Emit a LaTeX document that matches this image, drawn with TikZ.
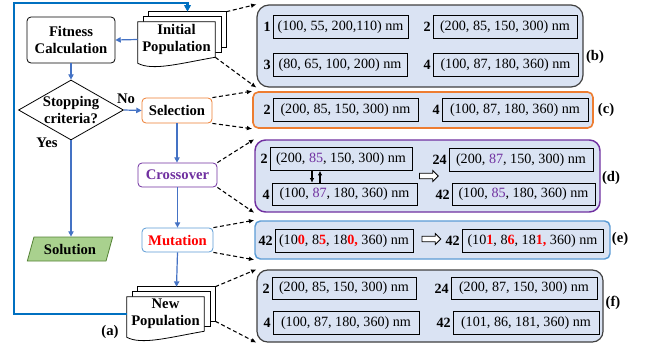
\documentclass[tikz,border=0pt]{standalone}
\usepackage{fontspec}
\setmainfont{Liberation Serif}
\usetikzlibrary{positioning,calc,shapes.geometric,shapes.arrows,arrows.meta}
\definecolor{pfill}{RGB}{218,227,243}
\definecolor{fblue}{RGB}{68,114,196}
\definecolor{lblue}{RGB}{0,112,192}
\definecolor{mblue}{RGB}{91,155,213}
\definecolor{org}{RGB}{237,125,49}
\definecolor{pur}{RGB}{112,48,160}
\definecolor{gfill}{RGB}{169,209,142}
\definecolor{gline}{RGB}{84,130,53}
\definecolor{dgray}{RGB}{64,64,64}
\newcommand{\mred}[1]{\textcolor{red}{\textbf{#1}}}
\newcommand{\mpur}[1]{\textcolor{pur}{#1}}
\tikzset{
  fl/.style={rectangle, rounded corners=3pt, draw=black, fill=white, line width=0.6pt, align=center, inner sep=1pt, font=\fontsize{11}{13}\selectfont\bfseries},
  dec/.style={diamond, shape aspect=1.75, draw=black, fill=white, line width=0.6pt, align=center, inner sep=-4pt, minimum width=78.75pt, minimum height=45pt, font=\fontsize{11}{13}\selectfont\bfseries},
  io/.style={trapezium, trapezium left angle=63, trapezium right angle=117, trapezium stretches body, draw=gline, fill=gfill, line width=0.6pt, inner sep=1pt, font=\fontsize{11}{13}\selectfont\bfseries},
  dt/.style={align=center, inner sep=0pt, font=\fontsize{11}{13}\selectfont\bfseries},
  pg/.style={draw=black, fill=white, line width=0.6pt},
  pn/.style={rectangle, rounded corners=8pt, draw=dgray, fill=pfill, line width=0.9pt},
  gb/.style={rectangle, draw=black, fill=pfill, line width=0.6pt, minimum height=17pt, inner sep=0pt, font=\fontsize{10.6}{12.5}\selectfont},
  nl/.style={inner sep=1.2pt, font=\fontsize{10.6}{12.5}\selectfont\bfseries},
  pl/.style={inner sep=0pt, font=\fontsize{11}{13}\selectfont\bfseries},
  fa/.style={draw=fblue, line width=0.9pt, -{Triangle[length=4pt,width=4pt]}},
  lp/.style={draw=lblue, line width=2pt, -{Triangle[length=5pt,width=5pt]}},
  da/.style={draw=black, line width=0.8pt, dash pattern=on 3pt off 2pt, -{Latex[length=4pt,width=3.5pt]}},
  sw/.style={draw=black, line width=0.9pt, -{Latex[length=3.5pt,width=3.5pt]}},
  ha/.style={single arrow, draw=black, fill=white, line width=0.6pt, minimum height=14pt, minimum width=8pt, single arrow head extend=2pt, inner sep=1.8pt}
}
\newcommand{\docstack}[1]{%
  \draw[pg] ($(#1.north west)+(11,-10)$) rectangle ($(#1.south east)+(11,-10)$);
  \draw[pg] ($(#1.north west)+(6,-5)$) rectangle ($(#1.south east)+(6,-5)$);
  \draw[pg] (#1.south east) -- (#1.north east) -- (#1.north west) -- ($(#1.south west)+(0,6)$)
    .. controls +(15,8) and +(-35,6) .. (#1.south east);
}

\begin{document}
\begin{tikzpicture}[x=0.75pt, y=-0.75pt]
	\useasboundingbox (0,0) rectangle (650,347);
	% flow chart
	\node[fl, minimum width=66pt, minimum height=34.5pt] (fit) at (71,40) {Fitness\\Calculation};
	\node[dec] (stop) at (71,110) {Stopping\\criteria?};
	\node[fl, draw=org, minimum width=52.5pt, minimum height=18.75pt] (sel) at (177,110.5) {Selection};
	\node[fl, draw=pur, text=pur, minimum width=59.25pt, minimum height=18pt] (cro) at (177.5,175) {Crossover};
	\node[fl, draw=mblue, text=red, minimum width=53.25pt, minimum height=18pt] (mut) at (177.5,240) {Mutation};
	\node[io, minimum width=64pt, minimum height=18pt] (sol) at (70,249) {Solution};
	\path node[minimum width=57.75pt, minimum height=26.25pt, inner sep=0pt] (initpop) at (176.5,39.5) {};
	\docstack{initpop}
	\node[dt] (initpoptxt) at (initpop) {Initial\\Population};
	\path node[minimum width=57.75pt, minimum height=25.5pt, inner sep=0pt] (newpop) at (165.5,314) {};
	\docstack{newpop}
	\node[dt] (newpoptxt) at (newpop) {New\\Population};
	\node[pl] (no) at (126,99) {No};
	\node[pl] (yes) at (47,143) {Yes};
	\node[pl] (la) at (110,332) {(a)};

	\draw[fa] (initpop.west) -- (fit.east);
	\draw[fa] (fit) -- (stop);
	\draw[fa] (stop.east) -- (sel.west);
	\draw[fa] (stop.south) -- (stop.south |- sol.north);
	\draw[fa] (sel.south) -- (sel.south |- cro.north);
	\draw[fa] (cro.south) -- (cro.south |- mut.north);
	\draw[fa] (mut.south) -- ($(newpop.north)+(11,-10)$);
	\draw[lp] (newpop.west) -| (14,3) -| ($(initpop.north)+(11,-10)$);

	% panels
	\node[pn, rounded corners=9pt, minimum width=244.5pt, minimum height=61.5pt] (pb) at (420,46) {};
	\node[pn, draw=org, line width=1.2pt, rounded corners=4pt, minimum width=255pt, minimum height=27pt] (pc) at (423,110) {};
	\node[pn, draw=pur, line width=1.1pt, minimum width=258.75pt, minimum height=54pt] (pd) at (427.5,176) {};
	\node[pn, draw=mblue, line width=1.1pt, rounded corners=4pt, minimum width=266.25pt, minimum height=28.5pt] (pe) at (432.5,240) {};
	\node[pn, minimum width=259.5pt, minimum height=54pt] (pf) at (430,306) {};
	\node[pl] (lb) at (595,57) {(b)};
	\node[pl] (lc) at (606,110) {(c)};
	\node[pl] (ld) at (611,178) {(d)};
	\node[pl] (le) at (620,239) {(e)};
	\node[pl] (lf) at (613,303) {(f)};

	% (b) initial population
	\node[gb, minimum width=101.25pt] (b1) at (340.5,27) {(100, 55, 200,110) nm};
	\node[gb, minimum width=108pt] (b2) at (505,27) {(200, 85, 150, 300) nm};
	\node[gb, minimum width=100.5pt] (b3) at (340,65) {(80, 65, 100, 200) nm};
	\node[gb, minimum width=108.75pt] (b4) at (505.5,65) {(100, 87, 180, 360) nm};
	\node[nl, left=0pt of b1] (nb1) {1};
	\node[nl, left=0pt of b2] (nb2) {2};
	\node[nl, left=0pt of b3] (nb3) {3};
	\node[nl, left=0pt of b4] (nb4) {4};

	% (c) selection
	\node[gb, minimum width=108.75pt] (c2) at (345.5,110) {(200, 85, 150, 300) nm};
	\node[gb, minimum width=109.5pt] (c4) at (515,110) {(100, 87, 180, 360) nm};
	\node[nl, left=0pt of c2] (nc2) {2};
	\node[nl, left=0pt of c4] (nc4) {4};

	% (d) crossover
	\node[gb, minimum width=106.5pt] (d2) at (341,159) {(200, \mpur{85}, 150, 300) nm};
	\node[gb, minimum width=108.75pt] (d4) at (344.5,194.5) {(100, \mpur{87}, 180, 360) nm};
	\node[gb, minimum width=108pt] (d24) at (521,160) {(200, \mpur{87}, 150, 300) nm};
	\node[gb, minimum width=107.25pt] (d42) at (523.5,194.5) {(100, \mpur{85}, 180, 360) nm};
	\node[nl, left=0pt of d2] (nd2) {2};
	\node[nl, left=0pt of d4] (nd4) {4};
	\node[nl, left=0pt of d24] (nd24) {24};
	\node[nl, left=0pt of d42] (nd42) {42};
	\coordinate (sw1) at ($(d2.south)+(-29,0)$);
	\coordinate (sw2) at ($(d2.south)+(-21,0)$);
	\draw[sw] (sw1) -- (sw1 |- d4.north);
	\draw[sw] (sw2 |- d4.north) -- (sw2);
	\node[ha] (xd) at (427.5,176) {};

	% (e) mutation
	\node[gb, minimum width=103.5pt] (e1) at (344,241) {(10\mred{0}, 8\mred{5}, 18\mred{0}\mred{,} 360) nm};
	\node[gb, minimum width=105.75pt] (e2) at (532.5,241) {(10\mred{1}, 8\mred{6}, 18\mred{1}\mred{,} 360) nm};
	\node[nl, left=0pt of e1] (ne1) {42};
	\node[nl, left=0pt of e2] (ne2) {42};
	\node[ha] (xe) at (430,239) {};

	% (f) new population
	\node[gb, minimum width=108pt] (f2) at (344,288.5) {(200, 85, 150, 300) nm};
	\node[gb, minimum width=109.5pt] (f24) at (524,288.5) {(200, 87, 150, 300) nm};
	\node[gb, minimum width=109.5pt] (f4) at (346,323) {(100, 87, 180, 360) nm};
	\node[gb, minimum width=109.5pt] (f42) at (526,323) {(101, 86, 181, 360) nm};
	\node[nl, left=0pt of f2] (nf2) {2};
	\node[nl, left=0pt of f24] (nf24) {24};
	\node[nl, left=0pt of f4] (nf4) {4};
	\node[nl, left=0pt of f42] (nf42) {42};

	% dashed links
	\draw[da] ($(initpop.north east)+(11,-10)$) -- (pb.north west);
	\draw[da] (initpop.south east) -- (pb.south west);
	\draw[da] (sel.north east) -- (pc.north west);
	\draw[da] (sel.south east) -- (pc.south west);
	\draw[da] (cro.north east) -- (pd.north west);
	\draw[da] (cro.south east) -- (pd.south west);
	\draw[da] (mut.north east) -- (pe.north west);
	\draw[da] (mut.south east) -- (pe.south west);
	\draw[da] ($(newpop.north east)+(11,-10)$) -- (pf.north west);
	\draw[da] ($(newpop.south east)+(11,-10)$) -- (pf.south west);
\end{tikzpicture}
\end{document}
